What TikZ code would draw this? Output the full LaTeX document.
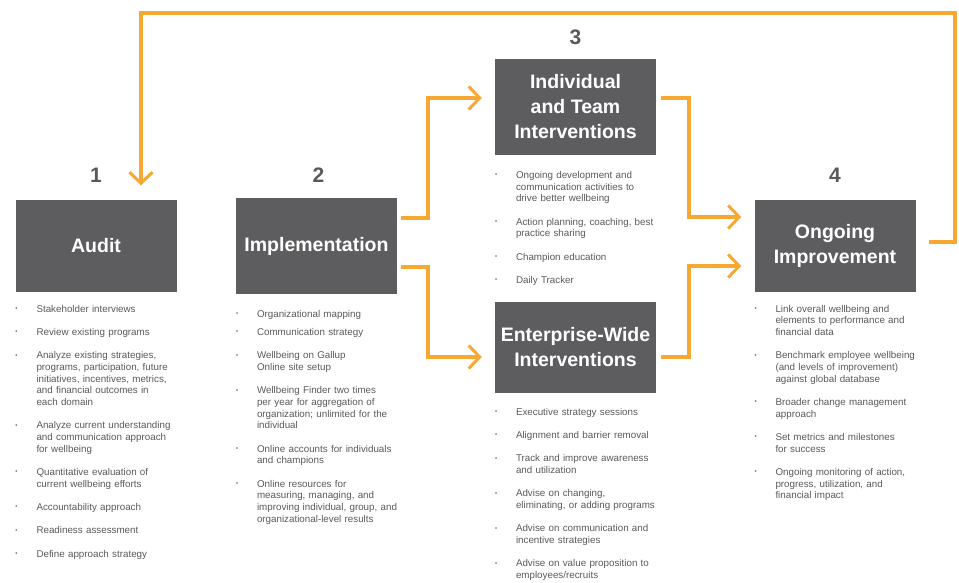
\documentclass[tikz,border=0pt]{standalone}
\usepackage{fontspec}
\setmainfont{Liberation Sans}
\usetikzlibrary{arrows.meta,positioning}
\definecolor{boxgray}{RGB}{93,93,95}
\definecolor{textgray}{RGB}{88,89,91}
\definecolor{flowline}{RGB}{247,168,51}
\newcommand{\li}[2][0pt]{\ifdim#1=0pt\else\vskip#1\relax\fi\noindent\hangindent=21pt\hangafter=1\makebox[21pt][l]{\raisebox{1.6pt}{\fontsize{6}{6}\selectfont\textbullet}}#2\par}

\begin{document}
\begin{tikzpicture}[x=1pt, y=-1pt, node distance={16pt},
  stage/.style = {fill=boxgray, text=white, minimum width=161pt, minimum height=91pt, inner sep=0pt, align=center, font=\fontsize{19.5}{25}\selectfont\bfseries},
  num/.style = {text=textgray, inner sep=0pt, font=\fontsize{21}{21}\selectfont\bfseries},
  items/.style = {anchor=north west, inner sep=0pt, text width=185pt, align=left, text=textgray, font=\fontsize{9.8}{11.7}\selectfont, execute at begin node={\setlength{\parskip}{11.6pt}}},
  flow/.style = {draw=flowline, line width=3.5pt, -{Straight Barb[length=11pt, width=23pt, line width=3pt]}}]
\useasboundingbox (0,0) rectangle (959,583);
\node[stage] (audit) at (96,246) {Audit};
\node[stage, minimum height=96pt] (impl) at (316.5,246) {Implementation};
\node[stage, minimum height=96pt] (indiv) at (575.5,107) {Individual\\and Team\\Interventions};
\node[stage] (enterprise) at (575.5,347) {Enterprise-Wide\\Interventions};
\node[stage] (ongoing) at (835,246) {Ongoing\\Improvement};
\node[num] (n1) [above=18pt of audit] {1};
\node[num] (n2) [above=15pt of impl, xshift=2pt] {2};
\node[num] (n3) [above=14pt of indiv] {3};
\node[num] (n4) [above=18pt of ongoing] {4};
\coordinate (ret) at (955,13);
\node[items] (auditlist) at ([yshift=-13pt]audit.south west) {%
\li{Stakeholder interviews}%
\li{Review existing programs}%
\li{Analyze existing strategies,\newline programs, participation, future\newline initiatives, incentives, metrics,\newline and financial outcomes in\newline each domain}%
\li{Analyze current understanding\newline and communication approach\newline for wellbeing}%
\li{Quantitative evaluation of\newline current wellbeing efforts}%
\li{Accountability approach}%
\li{Readiness assessment}%
\li{Define approach strategy}};
\node[items] (impllist) at ([yshift=-16pt]impl.south west) {%
\li{Organizational mapping}%
\li[-5.5pt]{Communication strategy}%
\li{Wellbeing on Gallup\newline Online site setup}%
\li{Wellbeing Finder two times\newline per year for aggregation of\newline organization; unlimited for the\newline individual}%
\li{Online accounts for individuals\newline and champions}%
\li{Online resources for\newline measuring, managing, and\newline improving individual, group, and\newline organizational-level results}};
\node[items] (indivlist) at ([yshift=-16pt]indiv.south west) {%
\li{Ongoing development and\newline communication activities to\newline drive better wellbeing}%
\li{Action planning, coaching, best\newline practice sharing}%
\li{Champion education}%
\li{Daily Tracker}};
\node[items] (enterpriselist) at ([yshift=-15pt]enterprise.south west) {%
\li{Executive strategy sessions}%
\li{Alignment and barrier removal}%
\li{Track and improve awareness\newline and utilization}%
\li{Advise on changing,\newline eliminating, or adding programs}%
\li{Advise on communication and\newline incentive strategies}%
\li{Advise on value proposition to\newline employees/recruits}};
\node[items] (ongoinglist) at ([yshift=-13pt]ongoing.south west) {%
\li{Link overall wellbeing and\newline elements to performance and\newline financial data}%
\li{Benchmark employee wellbeing\newline (and levels of improvement)\newline against global database}%
\li{Broader change management\newline approach}%
\li{Set metrics and milestones\newline for success}%
\li{Ongoing monitoring of action,\newline progress, utilization, and\newline financial impact}};
\draw[flow] ([xshift=4pt,yshift=28pt]impl.east) -- ++(27pt,0) |- ([xshift=-13pt,yshift=9pt]indiv.west);
\draw[flow] ([xshift=4pt,yshift=-21pt]impl.east) -- ++(27pt,0) |- ([xshift=-13pt,yshift=-10pt]enterprise.west);
\draw[flow] ([xshift=5pt,yshift=9pt]indiv.east) -- ++(28pt,0) |- ([xshift=-13pt,yshift=29pt]ongoing.west);
\draw[flow] ([xshift=5pt,yshift=-10pt]enterprise.east) -- ++(28pt,0) |- ([xshift=-13pt,yshift=-20pt]ongoing.west);
\draw[flow] ([xshift=13pt,yshift=4pt]ongoing.east) -| (ret) -| ([xshift=45pt,yshift=15pt]audit.north);
\end{tikzpicture}
\end{document}
